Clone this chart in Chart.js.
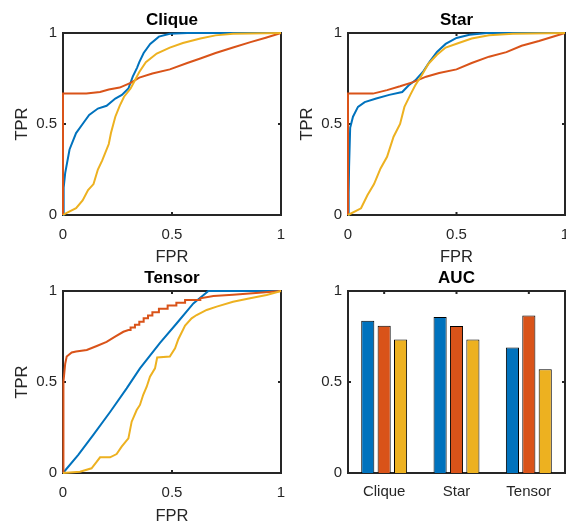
<!DOCTYPE html>
<html><head><meta charset="utf-8">
<script src="https://cdn.jsdelivr.net/npm/chart.js@4.4.1/dist/chart.umd.min.js"></script>
<style>
html,body{margin:0;padding:0;background:#fff;}
#wrap{position:relative;width:566px;height:523px;overflow:hidden;background:#fff;}
canvas{position:absolute;}
</style></head><body>
<div id="wrap">
<canvas id="c1" width="300" height="270" style="left:0px;top:0px"></canvas>
<canvas id="c2" width="300" height="270" style="left:285px;top:0px"></canvas>
<canvas id="c3" width="300" height="270" style="left:0px;top:260px"></canvas>
<canvas id="c4" width="300" height="270" style="left:285px;top:260px"></canvas>
</div>
<script>
// ---- tick labels / categories ----
const xTickValues = [0, 0.5, 1];
const yTickValues = [0, 0.5, 1];
const aucCategories = ['Clique', 'Star', 'Tensor'];
const subplotTitles = ['Clique', 'Star', 'Tensor', 'AUC'];

// ---- AUC bars ----
const aucSeries1 = [0.837, 0.857, 0.690];
const aucSeries2 = [0.809, 0.808, 0.866];
const aucSeries3 = [0.734, 0.734, 0.570];

// ---- Clique ROC ----
const cliqueFPR1 = [0, 0.003, 0.01, 0.03, 0.06, 0.09, 0.12, 0.16, 0.2, 0.24, 0.27, 0.30, 0.32, 0.34, 0.35, 0.37, 0.40, 0.44, 0.49, 0.57, 1];
const cliqueTPR1 = [0, 0.15, 0.23, 0.36, 0.45, 0.50, 0.55, 0.585, 0.60, 0.64, 0.66, 0.695, 0.76, 0.81, 0.84, 0.89, 0.94, 0.98, 0.996, 1, 1];
const cliqueFPR2 = [0, 0, 0.107, 0.17, 0.21, 0.26, 0.31, 0.35, 0.41, 0.49, 0.57, 0.63, 0.70, 0.78, 0.86, 0.93, 1];
const cliqueTPR2 = [0, 0.667, 0.667, 0.676, 0.69, 0.70, 0.726, 0.755, 0.777, 0.80, 0.835, 0.86, 0.89, 0.92, 0.95, 0.974, 1];
const cliqueFPR3 = [0, 0.015, 0.06, 0.09, 0.115, 0.14, 0.16, 0.18, 0.21, 0.22, 0.24, 0.26, 0.28, 0.31, 0.33, 0.35, 0.38, 0.43, 0.49, 0.55, 0.63, 0.70, 0.78, 1];
const cliqueTPR3 = [0, 0.01, 0.037, 0.08, 0.137, 0.17, 0.25, 0.30, 0.39, 0.45, 0.54, 0.60, 0.65, 0.695, 0.74, 0.786, 0.84, 0.887, 0.92, 0.945, 0.97, 0.987, 0.996, 1];

// ---- Star ROC ----
const starFPR1 = [0, 0.003, 0.005, 0.01, 0.023, 0.046, 0.077, 0.13, 0.19, 0.25, 0.28, 0.31, 0.345, 0.375, 0.41, 0.45, 0.50, 0.56, 0.64, 1];
const starTPR1 = [0, 0.12, 0.265, 0.48, 0.54, 0.594, 0.62, 0.64, 0.66, 0.676, 0.713, 0.74, 0.786, 0.84, 0.896, 0.94, 0.973, 0.99, 1, 1];
const starFPR2 = [0, 0, 0.115, 0.18, 0.24, 0.30, 0.36, 0.42, 0.50, 0.57, 0.65, 0.73, 0.80, 0.88, 0.94, 1];
const starTPR2 = [0, 0.667, 0.667, 0.686, 0.707, 0.73, 0.76, 0.78, 0.80, 0.835, 0.87, 0.895, 0.93, 0.956, 0.978, 1];
const starFPR3 = [0, 0.06, 0.09, 0.12, 0.15, 0.18, 0.21, 0.24, 0.26, 0.29, 0.31, 0.34, 0.37, 0.41, 0.45, 0.51, 0.57, 0.65, 0.76, 1];
const starTPR3 = [0, 0.037, 0.11, 0.17, 0.256, 0.32, 0.43, 0.50, 0.594, 0.667, 0.713, 0.768, 0.83, 0.88, 0.92, 0.945, 0.97, 0.987, 0.996, 1];

// ---- Tensor ROC ----
const tensorFPR1 = [0, 0.07, 0.139, 0.216, 0.292, 0.353, 0.445, 0.52, 0.598, 0.667, 1];
const tensorTPR1 = [0, 0.10, 0.209, 0.335, 0.465, 0.575, 0.715, 0.82, 0.932, 1, 1];
const tensorFPR2 = [0, 0, 0.004, 0.01, 0.017, 0.04, 0.06, 0.109, 0.155, 0.2, 0.239, 0.277, 0.30, 0.31, 0.31, 0.33, 0.33, 0.35, 0.35, 0.37, 0.37, 0.39, 0.39, 0.41, 0.41, 0.44, 0.44, 0.48, 0.48, 0.52, 0.52, 0.56, 0.56, 0.63, 0.63, 0.69, 0.78, 0.90, 1];
const tensorTPR2 = [0, 0.30, 0.50, 0.60, 0.64, 0.662, 0.667, 0.676, 0.698, 0.72, 0.749, 0.776, 0.786, 0.786, 0.80, 0.80, 0.815, 0.815, 0.831, 0.831, 0.85, 0.85, 0.866, 0.866, 0.883, 0.883, 0.903, 0.903, 0.92, 0.92, 0.935, 0.935, 0.95, 0.95, 0.96, 0.972, 0.98, 0.99, 1];
const tensorFPR3 = [0, 0.078, 0.131, 0.155, 0.17, 0.216, 0.246, 0.269, 0.30, 0.315, 0.338, 0.353, 0.368, 0.384, 0.399, 0.422, 0.432, 0.49, 0.514, 0.529, 0.56, 0.59, 0.613, 0.659, 0.705, 0.78, 0.858, 0.934, 1];
const tensorTPR3 = [0, 0.007, 0.026, 0.062, 0.086, 0.086, 0.104, 0.145, 0.19, 0.282, 0.346, 0.374, 0.43, 0.474, 0.529, 0.575, 0.635, 0.64, 0.685, 0.735, 0.81, 0.85, 0.868, 0.896, 0.914, 0.941, 0.96, 0.978, 1];

// ---- styling ----
const COLORS = ['#0072BD', '#D95319', '#EDB120'];
const AXIS = '#262626';
const FONT = "'Liberation Sans', Arial, Helvetica, sans-serif";
const TICK_FONT = 15, LABEL_FONT = 16.5, TITLE_FONT = 17;

function pts(xs, ys) { return xs.map((x, i) => ({x: x, y: ys[i]})); }

const boxPlugin = {
  id: 'matlabBox',
  beforeDatasetsDraw(chart) {
    const {ctx, chartArea: a, scales} = chart;
    ctx.save();
    ctx.strokeStyle = AXIS;
    ctx.lineWidth = 2;
    ctx.strokeRect(a.left, a.top, a.right - a.left, a.bottom - a.top);
    const L = 3;
    ctx.beginPath();
    scales.x.ticks.forEach((t, i) => {
      const x = scales.x.getPixelForTick(i);
      ctx.moveTo(x, a.bottom); ctx.lineTo(x, a.bottom - L);
      ctx.moveTo(x, a.top); ctx.lineTo(x, a.top + L);
    });
    scales.y.ticks.forEach((t, i) => {
      const y = scales.y.getPixelForTick(i);
      ctx.moveTo(a.left, y); ctx.lineTo(a.left + L, y);
      ctx.moveTo(a.right, y); ctx.lineTo(a.right - L, y);
    });
    ctx.stroke();
    ctx.restore();
  }
};

// layout helper: canvas origin (cx,cy), size W,H; chart area L,T,R,B in page px
function layoutOpts(cx, cy, W, H, L, T, R, B) {
  const lh = TITLE_FONT * 1.2;
  const padTop = T - cy - 13 - lh / 2;
  return {
    padTop: padTop,
    padBottom: T - cy - padTop - lh,
    yWidth: L - cx,
    xHeight: cy + H - B,
    padRight: cx + W - R
  };
}

function titleOpts(lo, text) {
  return {display: true, text: text, color: '#000', fullSize: false,
          font: {family: FONT, size: TITLE_FONT, weight: 'bold'},
          padding: {top: lo.padTop, bottom: lo.padBottom}};
}

function yScale(lo, titleText) {
  return {
    type: 'linear', min: 0, max: 1,
    afterBuildTicks: s => { s.ticks = yTickValues.map(v => ({value: v})); },
    afterFit: s => { s.width = lo.yWidth; },
    grid: {display: false, drawTicks: false},
    border: {display: false},
    ticks: {color: AXIS, padding: 6, font: {family: FONT, size: TICK_FONT}, callback: v => String(v)},
    title: titleText ? {display: true, text: titleText, color: AXIS, font: {family: FONT, size: LABEL_FONT}, padding: {top: 12.5, bottom: 0}} : {display: false}
  };
}

function makeROC(id, geom, title, curves) {
  const [cx, cy, W, H, L, T, R, B, labelY] = geom;
  const lo = layoutOpts(cx, cy, W, H, L, T, R, B);
  const xTitlePad = (cy + H - labelY) - LABEL_FONT * 0.6;
  const datasets = curves.map((c, i) => ({
    data: pts(c[0], c[1]),
    borderColor: COLORS[i], backgroundColor: COLORS[i],
    borderWidth: 2, pointRadius: 0, tension: 0, fill: false,
    clip: 4, order: 3 - i
  }));
  new Chart(document.getElementById(id), {
    type: 'line',
    data: {datasets},
    options: {
      responsive: false, animation: false, events: [],
      layout: {padding: {left: 0, top: 0, right: lo.padRight, bottom: 0}},
      plugins: {
        legend: {display: false}, tooltip: {enabled: false},
        title: titleOpts(lo, title)
      },
      scales: {
        x: {
          type: 'linear', min: 0, max: 1,
          afterBuildTicks: s => { s.ticks = xTickValues.map(v => ({value: v})); },
          afterFit: s => { s.height = lo.xHeight; },
          grid: {display: false, drawTicks: false},
          border: {display: false},
          ticks: {color: AXIS, padding: 11, maxRotation: 0, font: {family: FONT, size: TICK_FONT}, callback: v => String(v)},
          title: {display: true, text: 'FPR', color: AXIS, font: {family: FONT, size: LABEL_FONT}, padding: {top: 0, bottom: xTitlePad}}
        },
        y: yScale(lo, 'TPR')
      }
    },
    plugins: [boxPlugin]
  });
}

// geometry: cx, cy, W, H, L, T, R, B, xLabelCenterY
makeROC('c1', [0, 0, 300, 270, 63, 33, 281, 215, 257], subplotTitles[0],
  [[cliqueFPR1, cliqueTPR1], [cliqueFPR2, cliqueTPR2], [cliqueFPR3, cliqueTPR3]]);
makeROC('c2', [285, 0, 300, 270, 348, 33, 565, 215, 257], subplotTitles[1],
  [[starFPR1, starTPR1], [starFPR2, starTPR2], [starFPR3, starTPR3]]);
makeROC('c3', [0, 260, 300, 270, 63, 291, 281, 473, 516], subplotTitles[2],
  [[tensorFPR1, tensorTPR1], [tensorFPR2, tensorTPR2], [tensorFPR3, tensorTPR3]]);

// AUC bar chart
(function () {
  const lo = layoutOpts(285, 260, 300, 270, 348, 291, 565, 473);
  const series = [aucSeries1, aucSeries2, aucSeries3];
  new Chart(document.getElementById('c4'), {
    type: 'bar',
    data: {
      labels: aucCategories,
      datasets: series.map((s, i) => ({
        data: s, backgroundColor: COLORS[i], borderColor: '#000', borderWidth: 1,
        categoryPercentage: 0.68, barPercentage: 0.8
      }))
    },
    options: {
      responsive: false, animation: false, events: [],
      layout: {padding: {left: 0, top: 0, right: lo.padRight, bottom: 0}},
      plugins: {
        legend: {display: false}, tooltip: {enabled: false},
        title: titleOpts(lo, subplotTitles[3])
      },
      scales: {
        x: {
          type: 'category', offset: true,
          afterFit: s => { s.height = lo.xHeight; },
          grid: {display: false, drawTicks: false, offset: true},
          border: {display: false},
          ticks: {color: AXIS, padding: 10, maxRotation: 0, font: {family: FONT, size: TICK_FONT}}
        },
        y: yScale(lo, null)
      }
    },
    plugins: [boxPlugin]
  });
})();
</script>
</body></html>
